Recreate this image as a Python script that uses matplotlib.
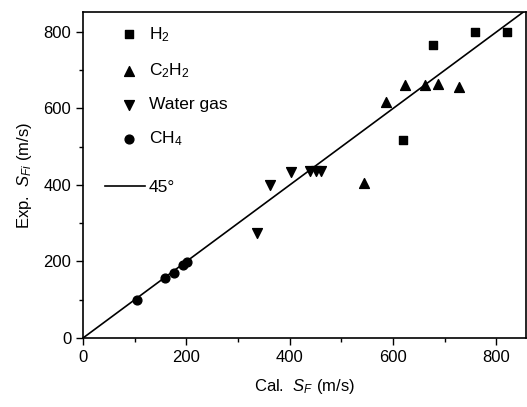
import matplotlib
matplotlib.use("Agg")
import matplotlib.pyplot as plt

plt.rcParams["font.family"] = ["Liberation Sans", "DejaVu Sans"]
plt.rcParams["mathtext.fontset"] = "custom"
plt.rcParams["mathtext.rm"] = "Liberation Sans"
plt.rcParams["mathtext.it"] = "Liberation Sans:italic"

# calculated vs experimental flame speed (m/s)
h2_cal = [759, 820, 677, 619]
h2_exp = [800, 800, 766, 518]

c2h2_cal = [623, 586, 662, 687, 728, 544]
c2h2_exp = [661, 617, 661, 664, 656, 405]

wg_cal = [362, 403, 440, 450, 461, 337]
wg_exp = [400, 434, 437, 437, 437, 274]

ch4_cal = [105, 159, 176, 193, 202]
ch4_exp = [99, 157, 170, 191, 199]

ref_line = [0, 900]

fig = plt.figure(figsize=(5.27, 4.07), dpi=100)
ax = fig.add_axes([0.1575, 0.1695, 0.8405, 0.801])

s1 = ax.scatter(h2_cal, h2_exp, marker="s", s=28, color="black", label="H$_2$")
s2 = ax.scatter(c2h2_cal, c2h2_exp, marker="^", s=50, color="black", label="C$_2$H$_2$")
s3 = ax.scatter(wg_cal, wg_exp, marker="v", s=50, color="black", label="Water gas")
s4 = ax.scatter(ch4_cal, ch4_exp, marker="o", s=40, color="black", label="CH$_4$")
ln, = ax.plot(ref_line, ref_line, color="black", lw=1.2, label="45°")

ax.set_xlim(0, 857)
ax.set_ylim(0, 852)
ax.set_xticks([0, 200, 400, 600, 800])
ax.set_yticks([0, 200, 400, 600, 800])
ax.set_xticks(range(100, 900, 200), minor=True)
ax.set_yticks(range(100, 900, 200), minor=True)
ax.tick_params(which="major", direction="out", length=5, width=1, labelsize=12)
ax.tick_params(which="minor", direction="out", length=3, width=1)
for sp in ax.spines.values():
    sp.set_linewidth(1.2)

ax.set_xlabel("Cal.  $S_F$ (m/s)", fontsize=12, labelpad=9)
ax.set_ylabel("Exp.  $S_{Fi}$ (m/s)", fontsize=12, labelpad=7)

leg1 = ax.legend(handles=[s1, s2, s3, s4], loc="upper left", frameon=False,
                 fontsize=12.5, bbox_to_anchor=(0.05, 1.008), labelspacing=1.0,
                 handletextpad=0.63, handlelength=1.0)
ax.add_artist(leg1)
ax.legend(handles=[ln], loc="upper left", frameon=False, fontsize=12.5,
          bbox_to_anchor=(0.014, 0.534), handlelength=2.3, handletextpad=0.2)

fig.savefig("out.png", dpi=100)
